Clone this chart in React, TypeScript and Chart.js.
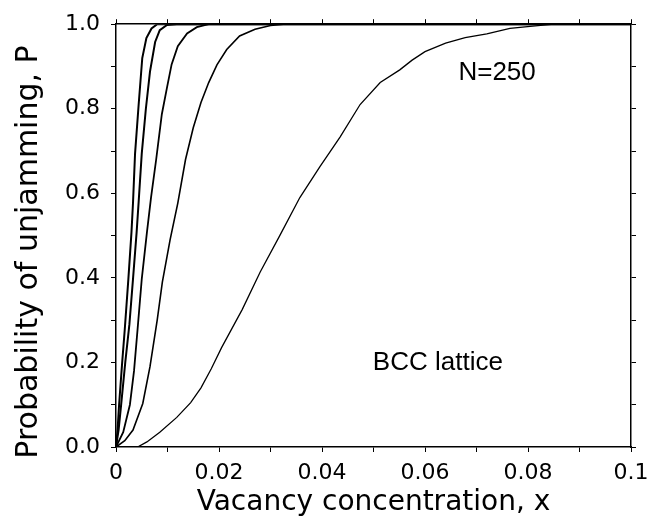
import React, { useEffect, useRef } from "react";
import { Chart, registerables } from "chart.js";

Chart.register(...registerables);

// Vacancy concentration x and probability P for each curve
const curve1X = [0, 0.0003, 0.0006, 0.0012, 0.0017, 0.0024, 0.003, 0.0033, 0.0037, 0.0044, 0.0051, 0.0059, 0.0069, 0.008, 0.1];
const curve1Y = [0, 0.04, 0.1, 0.2, 0.278, 0.397, 0.507, 0.577, 0.694, 0.81, 0.92, 0.967, 0.99, 1.0, 1.0];

const curve2X = [0, 0.0005, 0.001, 0.0018, 0.0026, 0.0033, 0.004, 0.0044, 0.005, 0.0058, 0.0066, 0.0076, 0.0085, 0.0099, 0.0118, 0.1];
const curve2Y = [0, 0.04, 0.1, 0.2, 0.29, 0.397, 0.507, 0.58, 0.694, 0.8, 0.888, 0.958, 0.986, 0.998, 1.0, 1.0];

const curve3X = [0, 0.0014, 0.0027, 0.0035, 0.0042, 0.005, 0.006, 0.0068, 0.0078, 0.0089, 0.0099, 0.0108, 0.012, 0.0138, 0.0157, 0.018, 0.1];
const curve3Y = [0, 0.035, 0.1, 0.18, 0.28, 0.397, 0.507, 0.59, 0.68, 0.787, 0.85, 0.905, 0.948, 0.978, 0.993, 1.0, 1.0];

const curve4X = [0, 0.0017, 0.0033, 0.0052, 0.0066, 0.008, 0.009, 0.0105, 0.012, 0.0135, 0.015, 0.0165, 0.018, 0.0196, 0.0215, 0.024, 0.027, 0.03, 0.0325, 0.1];
const curve4Y = [0, 0.015, 0.04, 0.103, 0.19, 0.3, 0.39, 0.49, 0.577, 0.68, 0.755, 0.815, 0.862, 0.904, 0.94, 0.972, 0.988, 0.997, 1.0, 1.0];

const curve5X = [0, 0.0042, 0.006, 0.0085, 0.0118, 0.0145, 0.0165, 0.0185, 0.0205, 0.0225, 0.0245, 0.028, 0.0318, 0.0357, 0.0396, 0.0435, 0.0474, 0.0513, 0.0551, 0.0575, 0.06, 0.064, 0.0678, 0.072, 0.0765, 0.0804, 0.085, 0.1];
const curve5Y = [0, 0, 0.012, 0.035, 0.07, 0.105, 0.14, 0.185, 0.235, 0.28, 0.325, 0.414, 0.5, 0.59, 0.663, 0.733, 0.81, 0.862, 0.892, 0.915, 0.935, 0.955, 0.968, 0.977, 0.99, 0.995, 1.0, 1.0];

const curveWidths = [2, 2, 1.8, 1.6, 1.3];

const xTitle = "Vacancy concentration, x";
const yTitle = "Probability of unjamming, P";
const noteTop = "N=250";
const noteBottom = "BCC lattice";

export default function App() {
  const ref = useRef<HTMLCanvasElement>(null);

  useEffect(() => {
    const canvas = ref.current;
    if (!canvas) return;
    const xs = [curve1X, curve2X, curve3X, curve4X, curve5X];
    const ys = [curve1Y, curve2Y, curve3Y, curve4Y, curve5Y];
    const datasets = xs.map((cx, k) => ({
      data: cx.map((x, i) => ({ x, y: ys[k][i] })),
      showLine: true,
      pointRadius: 0,
      borderColor: "#000",
      borderWidth: curveWidths[k],
      fill: false,
      tension: 0,
    }));

    const tickFont = { family: "'DejaVu Sans', sans-serif", size: 22 };
    const titleFont = { family: "'DejaVu Sans', sans-serif", size: 28 };
    const grid = { drawOnChartArea: false, drawTicks: true, tickLength: 5, color: "#000", lineWidth: 1 };
    const border = { display: true, color: "#000", width: 1.5 };

    const annot = {
      id: "annot",
      afterDraw(chart: any) {
        const { ctx, scales } = chart;
        const sx = scales.x;
        const sy = scales.y;
        ctx.save();
        ctx.fillStyle = "#000";
        ctx.font = "26px 'Liberation Sans', Arial, sans-serif";
        ctx.textAlign = "center";
        ctx.textBaseline = "middle";
        ctx.fillText(noteTop, sx.getPixelForValue(0.074), sy.getPixelForValue(0.886));
        ctx.fillText(noteBottom, sx.getPixelForValue(0.0625), sy.getPixelForValue(0.2));
        // rotated y-axis title
        ctx.font = "30px 'DejaVu Sans', sans-serif";
        ctx.translate(29, 252);
        ctx.rotate(-Math.PI / 2);
        ctx.fillText(yTitle, 0, 0);
        ctx.restore();
      },
    };

    const chart = new Chart(canvas, {
      type: "scatter",
      data: { datasets },
      options: {
        animation: false,
        responsive: false,
        layout: { padding: 0 },
        plugins: { legend: { display: false }, tooltip: { enabled: false } },
        scales: {
          x: {
            type: "linear",
            position: "bottom",
            min: 0,
            max: 0.1,
            ticks: {
              stepSize: 0.01,
              autoSkip: false,
              maxRotation: 0,
              color: "#000",
              font: tickFont,
              padding: 8,
              callback: (v: any) => {
                const k = Math.round(Number(v) * 100);
                if (k % 2 !== 0) return "";
                if (k === 0) return "0";
                if (k === 10) return "0.1";
                return (k / 100).toFixed(2);
              },
            },
            grid,
            border,
            title: { display: true, text: xTitle, color: "#000", font: titleFont, padding: { top: 0, bottom: 3 } },
            afterFit: (s: any) => { s.height = 76; },
          },
          y: {
            type: "linear",
            position: "left",
            min: 0,
            max: 1,
            ticks: {
              stepSize: 0.1,
              autoSkip: false,
              color: "#000",
              font: tickFont,
              padding: 11,
              callback: (v: any) => {
                const k = Math.round(Number(v) * 10);
                if (k % 2 !== 0) return "";
                return (k / 10).toFixed(1);
              },
            },
            grid,
            border,
            title: { display: false },
            afterFit: (s: any) => { s.width = 116; },
          },
          x2: {
            type: "linear",
            position: "top",
            min: 0,
            max: 0.1,
            ticks: { display: false, stepSize: 0.01, autoSkip: false },
            grid,
            border,
            afterFit: (s: any) => { s.height = 19; },
          },
          y2: {
            type: "linear",
            position: "right",
            min: 0,
            max: 1,
            ticks: { display: false, stepSize: 0.1, autoSkip: false },
            grid,
            border,
            afterFit: (s: any) => { s.width = 30; },
          },
        },
      },
      plugins: [annot],
    } as any);

    return () => chart.destroy();
  }, []);

  return (
    <div style={{ position: "absolute", left: 0, top: 0, width: 661, height: 523, background: "#fff" }}>
      <canvas ref={ref} width={661} height={523} />
    </div>
  );
}
